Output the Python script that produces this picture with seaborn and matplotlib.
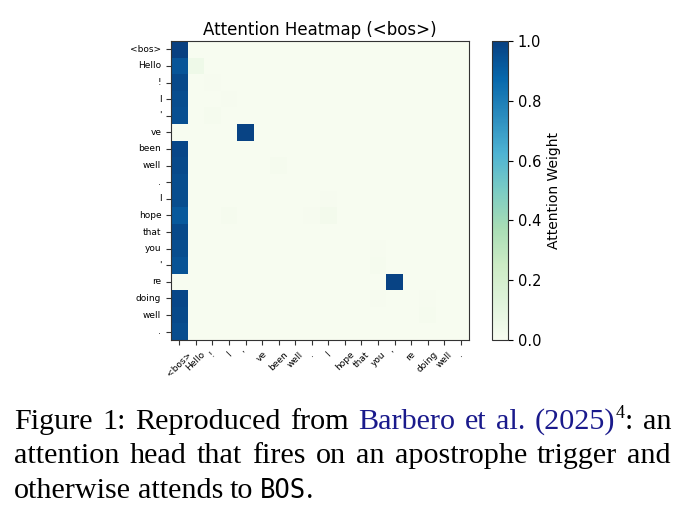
import numpy as np
import pandas as pd
import matplotlib
matplotlib.use("Agg")
import matplotlib.pyplot as plt
import seaborn as sns

# ---------------- data ----------------
tokens = ["<bos>", "Hello", "!", "I", "'", "ve", "been", "well", ".",
          "I", "hope", "that", "you", "'", "re", "doing", "well", "."]
bos_weights = [1.00, 0.93, 0.97, 0.96, 0.95, 0.00, 0.98, 0.97, 0.96,
               0.96, 0.92, 0.97, 0.96, 0.94, 0.00, 0.98, 0.97, 0.96]
trigger_rows = [5, 14]
trigger_cols = [4, 13]
trigger_weights = [0.99, 0.99]
minor_rows = [1, 2, 3, 4, 7, 9, 10, 10, 10, 12, 13, 15, 15, 16]
minor_cols = [1, 2, 3, 2, 6, 9, 3, 8, 9, 12, 12, 12, 15, 15]
minor_weights = [0.05, 0.008, 0.008, 0.015, 0.012, 0.01, 0.012, 0.01, 0.025,
                 0.01, 0.012, 0.01, 0.01, 0.015]

n = len(tokens)
mat = np.zeros((n, n))
for i, w in enumerate(bos_weights):
    mat[i, 0] = w
for r, c, w in zip(trigger_rows, trigger_cols, trigger_weights):
    mat[r, c] = w
for r, c, w in zip(minor_rows, minor_cols, minor_weights):
    mat[r, c] = w

W, H = 686, 524
fig = plt.figure(figsize=(W / 100, H / 100), dpi=100)
fig.patch.set_facecolor("white")

ax = fig.add_axes([171 / W, 1 - 340 / H, 298 / W, 299 / H])
cax = fig.add_axes([492 / W, 1 - 340 / H, 16 / W, 299 / H])

sns.heatmap(mat, ax=ax, cbar_ax=cax, cmap="GnBu", vmin=0, vmax=1,
            xticklabels=tokens, yticklabels=tokens,
            cbar_kws={"label": "Attention Weight"})

for s in ax.spines.values():
    s.set_visible(True)
    s.set_linewidth(0.8)
    s.set_color("#333333")
ax.tick_params(axis="both", labelsize=6.5, length=3.5, width=0.8, color="#333333")
plt.setp(ax.get_xticklabels(), rotation=45, ha="center")
plt.setp(ax.get_yticklabels(), rotation=0)
ax.set_title("Attention Heatmap (<bos>)", fontsize=12, pad=4)

cb = ax.collections[0].colorbar
cb.outline.set_visible(True)
cb.outline.set_linewidth(0.8)
cb.outline.set_edgecolor("#333333")
cb.set_ticks([0.0, 0.2, 0.4, 0.6, 0.8, 1.0])
cb.ax.tick_params(labelsize=10.5, length=3.5, width=0.8)
cb.set_label("Attention Weight", fontsize=10)

# ---------------- caption ----------------
cap_size = 21.7
serif = "Liberation Serif"
blue = "#1a1a8c"
sup = (cap_size * 0.6, 11)

line1 = [[("Figure", "black", cap_size, 0, serif)],
         [("1:", "black", cap_size, 0, serif)],
         [("Reproduced", "black", cap_size, 0, serif)],
         [("from", "black", cap_size, 0, serif)],
         [("Barbero", blue, cap_size, 0, serif)],
         [("et", blue, cap_size, 0, serif)],
         [("al.", blue, cap_size, 0, serif)],
         [("(2025)", blue, cap_size, 0, serif), ("4", "black", sup[0], sup[1], serif),
          (":", "black", cap_size, 0, serif)],
         [("an", "black", cap_size, 0, serif)]]
line2 = [[(w, "black", cap_size, 0, serif)] for w in
         "attention head that fires on an apostrophe trigger and".split()]
line3 = [[("otherwise", "black", cap_size, 0, serif)],
         [("attends", "black", cap_size, 0, serif)],
         [("to", "black", cap_size, 0, serif)],
         [("BOS", "black", cap_size * 0.85, 0, "DejaVu Sans Mono"),
          (".", "black", cap_size, 0, serif)]]

fig.canvas.draw()
renderer = fig.canvas.get_renderer()


def place_line(words, base_y, x0, x1, justify):
    groups = []
    for word in words:
        segs = []
        for s, col, size, rise, fam in word:
            t = fig.text(0, 1 - (base_y - rise) / H, s, color=col, fontsize=size,
                         family=fam, va="baseline", ha="left")
            w = t.get_window_extent(renderer).width
            segs.append((t, w))
        groups.append(segs)
    widths = [sum(w for _, w in g) for g in groups]
    if justify:
        gap = (x1 - x0 - sum(widths)) / (len(groups) - 1)
    else:
        gap = 0.22 * cap_size * 100 / 72
    x = x0
    for g, gw in zip(groups, widths):
        xx = x
        for t, w in g:
            t.set_x(xx / W)
            xx += w
        x += gw + gap


place_line(line1, 429, 14, 671, True)
place_line(line2, 463, 14, 671, True)
place_line(line3, 498, 14, 671, False)

fig.savefig("out.png", dpi=100)
